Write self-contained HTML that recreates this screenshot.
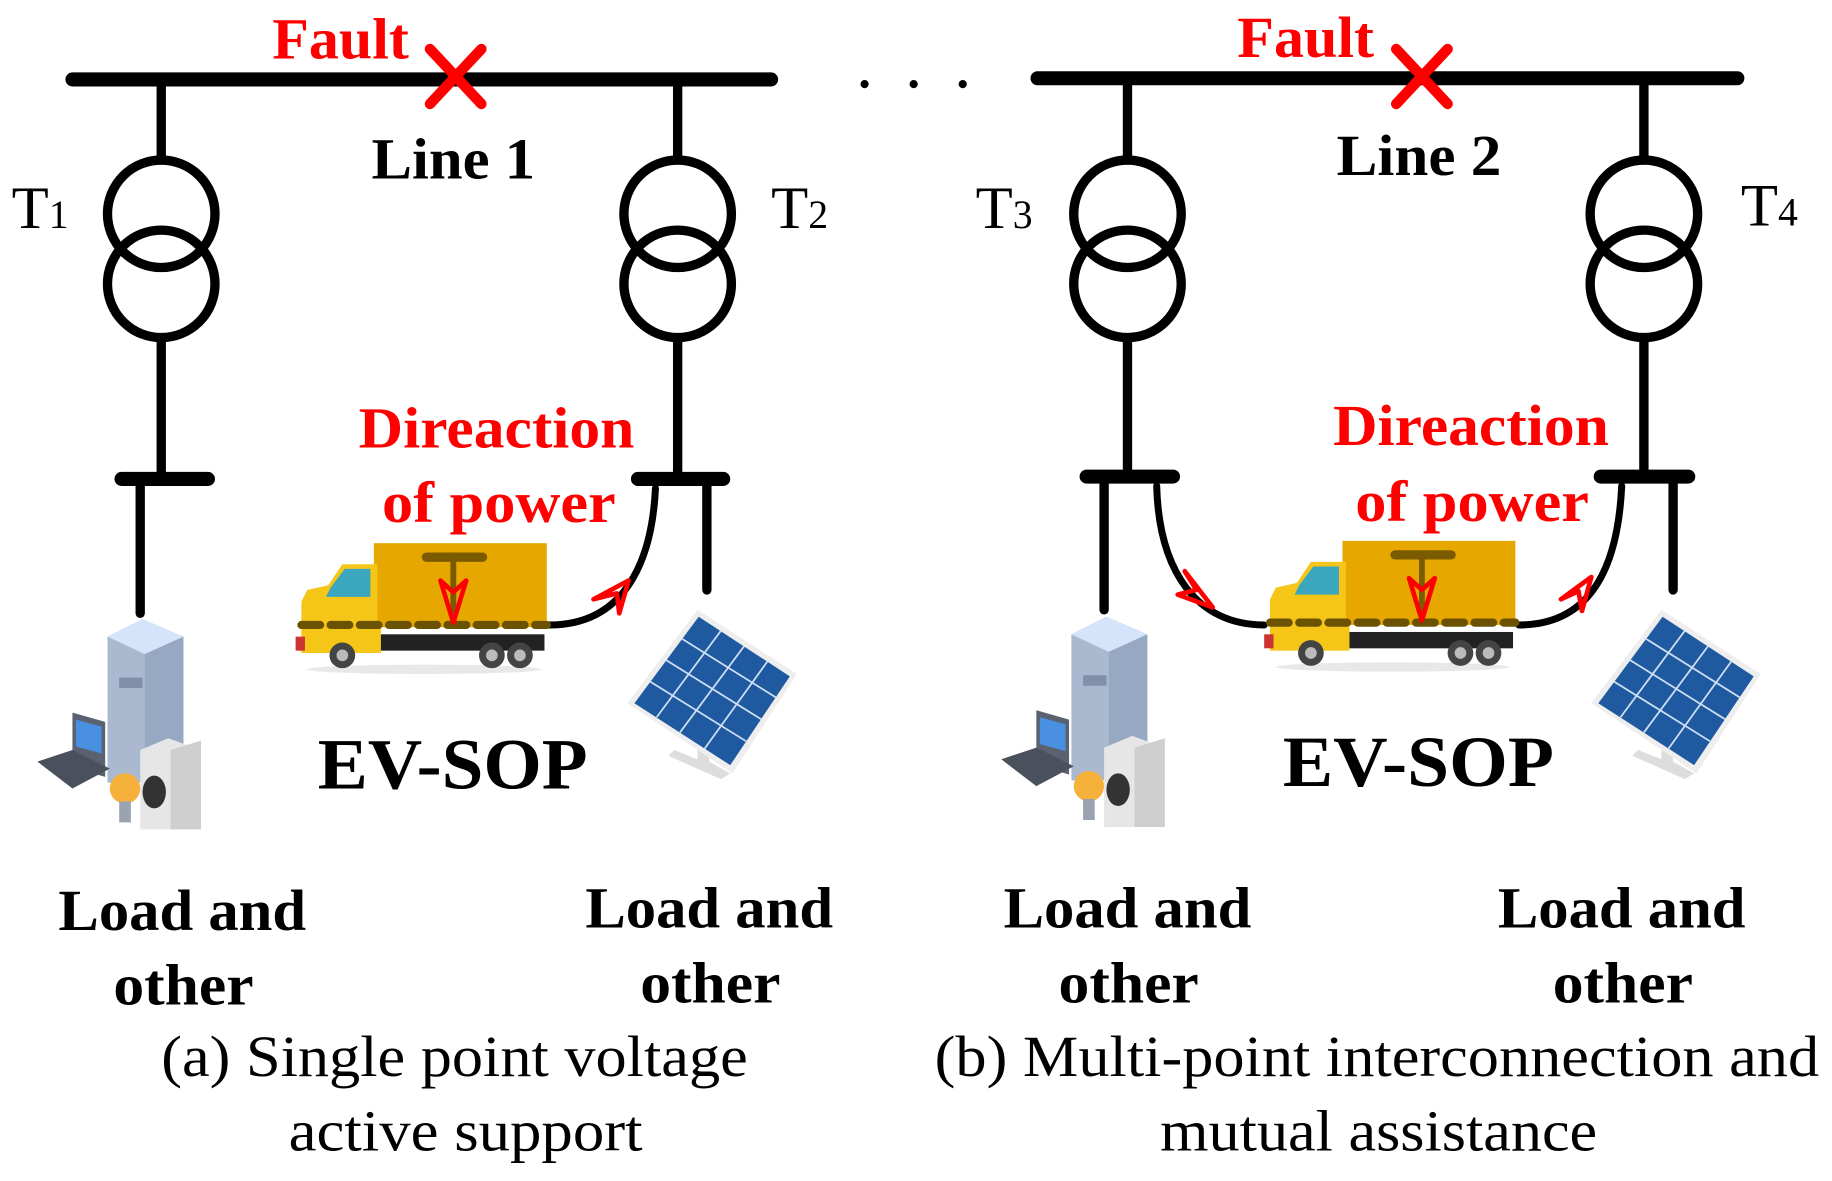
<!DOCTYPE html>
<html><head><meta charset="utf-8"><style>
html,body{margin:0;padding:0;background:#fff;}
svg{display:block;}
.b{font-family:"Liberation Serif",serif;font-weight:bold;}
.n{font-family:"Liberation Serif",serif;}
</style></head><body>
<svg width="1832" height="1181" viewBox="0 0 1568 1011" preserveAspectRatio="none" xmlns="http://www.w3.org/2000/svg">
<defs>
<g id="truck">
 <rect x="67" y="0" width="148" height="72" fill="#e6a800"/>
 <path d="M5 50 L5 78 L70 78 L70 18 L40 18 L28 36 L10 40 Z" fill="#f5c518"/>
 <path d="M30 38 L42 22 L64 22 L64 46 L26 46 Z" fill="#3aa7bf"/>
 <rect x="5" y="72" width="68" height="22" fill="#f5c518"/>
 <rect x="73" y="78" width="140" height="14" fill="#222"/>
 <rect x="0" y="80" width="8" height="12" fill="#c33"/>
 <ellipse cx="110" cy="108" rx="100" ry="4" fill="#e8e8e8"/>
 <circle cx="40" cy="96" r="11" fill="#444"/><circle cx="40" cy="96" r="5" fill="#bbb"/>
 <circle cx="168" cy="96" r="11" fill="#444"/><circle cx="168" cy="96" r="5" fill="#bbb"/>
 <circle cx="192" cy="96" r="11" fill="#444"/><circle cx="192" cy="96" r="5" fill="#bbb"/>
 <line x1="112" y1="12" x2="160" y2="12" stroke="#7a5b00" stroke-width="8" stroke-linecap="round"/>
 <line x1="135" y1="12" x2="135" y2="70" stroke="#7a5b00" stroke-width="5"/>
 <line x1="5" y1="70" x2="215" y2="70" stroke="#6b5200" stroke-width="7" stroke-dasharray="16,9" stroke-linecap="round"/>
 <path d="M124 32 L135 68 L146 32 L135 42 Z" fill="none" stroke="#f00" stroke-width="4" stroke-linejoin="round"/>
</g>
<g id="load">
 <path d="M60 15 L90 0 L125 15 L125 140 L60 140 Z" fill="#aab9d0"/>
 <path d="M60 15 L90 0 L125 15 L92 30 Z" fill="#d6e4fb"/>
 <path d="M92 30 L125 15 L125 140 L92 140 Z" fill="#97a8c2"/>
 <rect x="70" y="50" width="20" height="9" fill="#8090a8"/>
 <path d="M30 80 L58 88 L58 135 L30 127 Z" fill="#5a6170"/>
 <path d="M33 86 L55 92 L55 115 L33 109 Z" fill="#4a90e0"/>
 <path d="M0 122 L30 112 L62 128 L30 145 Z" fill="#4a505c"/>
 <path d="M88 112 L112 102 L140 112 L140 180 L88 180 Z" fill="#e6e6e6"/>
 <path d="M114 112 L140 104 L140 180 L114 180 Z" fill="#cfcfcf"/>
 <ellipse cx="100" cy="148" rx="10" ry="14" fill="#333"/>
 <circle cx="75" cy="145" r="13" fill="#f6b13a"/>
 <rect x="70" y="156" width="10" height="18" fill="#9aa4b0"/>
</g>
<g id="solar">
 <path d="M60 110 L70 110 L70 130 L88 140 L80 145 L35 125 L40 120 L60 128 Z" fill="#ddd"/>
 <path d="M0 80 L60 0 L145 55 L90 140 Z" fill="#eee"/>
 <path d="M6 80 L61 6 L139 57 L88 133 Z" fill="#1f5aa0"/>
 <g stroke="#cfe0f5" stroke-width="1.5">
  <line x1="19.5" y1="61.5" x2="101.5" y2="112.5"/>
  <line x1="33" y1="43" x2="115" y2="94"/>
  <line x1="47" y1="25" x2="127" y2="75"/>
  <line x1="25" y1="92" x2="80" y2="18"/>
  <line x1="45" y1="105" x2="100" y2="31"/>
  <line x1="66" y1="119" x2="120" y2="44"/>
 </g>
</g>
<g id="xf">
 <circle cx="0" cy="0" r="46" fill="none" stroke="#000" stroke-width="8"/>
 <circle cx="0" cy="60" r="46" fill="none" stroke="#000" stroke-width="8"/>
</g>
</defs>

<g stroke="#000" stroke-linecap="round" fill="none">
 <line x1="62" y1="68" x2="660" y2="68" stroke-width="12"/>
 <line x1="888" y1="67" x2="1487" y2="67" stroke-width="12"/>
 <line x1="138" y1="68" x2="138" y2="137" stroke-width="8"/>
 <line x1="138" y1="290" x2="138" y2="410" stroke-width="8"/>
 <line x1="104" y1="410" x2="178" y2="410" stroke-width="12"/>
 <line x1="120" y1="410" x2="120" y2="525" stroke-width="8"/>
 <line x1="580" y1="68" x2="580" y2="137" stroke-width="8"/>
 <line x1="580" y1="290" x2="580" y2="410" stroke-width="8"/>
 <line x1="546" y1="410" x2="619" y2="410" stroke-width="12"/>
 <line x1="605" y1="410" x2="605" y2="505" stroke-width="8"/>
 <path d="M561 418 C558 480 535 535 470 535" stroke-width="6"/>
 <line x1="965" y1="67" x2="965" y2="137" stroke-width="8"/>
 <line x1="965" y1="290" x2="965" y2="408" stroke-width="8"/>
 <line x1="930" y1="408" x2="1004" y2="408" stroke-width="12"/>
 <line x1="945" y1="408" x2="945" y2="522" stroke-width="8"/>
 <path d="M990 416 C992 490 1025 535 1082 535" stroke-width="6"/>
 <line x1="1407" y1="67" x2="1407" y2="137" stroke-width="8"/>
 <line x1="1407" y1="290" x2="1407" y2="408" stroke-width="8"/>
 <line x1="1370" y1="408" x2="1445" y2="408" stroke-width="12"/>
 <line x1="1432" y1="408" x2="1432" y2="505" stroke-width="8"/>
 <path d="M1388 416 C1385 480 1365 535 1300 535" stroke-width="6"/>
</g>
<use href="#xf" x="138" y="183"/>
<use href="#xf" x="580" y="183"/>
<use href="#xf" x="965" y="183"/>
<use href="#xf" x="1407" y="183"/>

<g stroke="#f00" stroke-width="9" stroke-linecap="round">
 <line x1="368" y1="42" x2="412" y2="89"/><line x1="412" y1="42" x2="368" y2="89"/>
 <line x1="1195" y1="42" x2="1239" y2="89"/><line x1="1239" y1="42" x2="1195" y2="89"/>
</g>
<g fill="#000"><circle cx="740" cy="72" r="3.5"/><circle cx="782" cy="72" r="3.5"/><circle cx="824" cy="72" r="3.5"/></g>

<use href="#truck" x="253" y="465"/>
<use href="#truck" x="1082" y="463"/>
<g fill="none" stroke="#f00" stroke-width="4" stroke-linejoin="round">
 <path d="M508 513 L538 497 L530 525 L528 508 Z"/>
 <path d="M1336 513 L1362 494 L1354 523 L1351 506 Z"/>
 <path d="M1014 489 L1038 520 L1008 509 L1024 505 Z"/>
</g>

<use href="#load" x="32" y="530"/>
<use href="#load" x="857" y="528"/>
<use href="#solar" x="537" y="522"/>
<use href="#solar" x="1362" y="522"/>

<g class="b" fill="#f00" font-size="50">
 <text x="233" y="50" textLength="117" lengthAdjust="spacingAndGlyphs">Fault</text>
 <text x="1059" y="49" textLength="117" lengthAdjust="spacingAndGlyphs">Fault</text>
 <text x="307" y="383" textLength="236" lengthAdjust="spacingAndGlyphs">Direaction</text>
 <text x="327" y="447" textLength="200" lengthAdjust="spacingAndGlyphs">of power</text>
 <text x="1141" y="381" textLength="236" lengthAdjust="spacingAndGlyphs">Direaction</text>
 <text x="1160" y="446" textLength="200" lengthAdjust="spacingAndGlyphs">of power</text>
</g>
<g class="b" fill="#000" font-size="50">
 <text x="318" y="153" textLength="140" lengthAdjust="spacingAndGlyphs">Line 1</text>
 <text x="1144" y="150" textLength="141" lengthAdjust="spacingAndGlyphs">Line 2</text>
 <text x="50" y="796" textLength="212" lengthAdjust="spacingAndGlyphs">Load and</text>
 <text x="97" y="860" textLength="120" lengthAdjust="spacingAndGlyphs">other</text>
 <text x="501" y="794" textLength="212" lengthAdjust="spacingAndGlyphs">Load and</text>
 <text x="548" y="858" textLength="120" lengthAdjust="spacingAndGlyphs">other</text>
 <text x="859" y="794" textLength="212" lengthAdjust="spacingAndGlyphs">Load and</text>
 <text x="906" y="858" textLength="120" lengthAdjust="spacingAndGlyphs">other</text>
 <text x="1282" y="794" textLength="212" lengthAdjust="spacingAndGlyphs">Load and</text>
 <text x="1329" y="858" textLength="120" lengthAdjust="spacingAndGlyphs">other</text>
 <text x="272" y="675" font-size="62" textLength="231" lengthAdjust="spacingAndGlyphs">EV-SOP</text>
 <text x="1098" y="673" font-size="62" textLength="232" lengthAdjust="spacingAndGlyphs">EV-SOP</text>
</g>
<g class="n" fill="#000" font-size="52">
 <text x="10" y="195">T<tspan font-size="34">1</tspan></text>
 <text x="660" y="195">T<tspan font-size="34">2</tspan></text>
 <text x="835" y="195">T<tspan font-size="34">3</tspan></text>
 <text x="1490" y="193">T<tspan font-size="34">4</tspan></text>
</g>
<g class="n" fill="#000" font-size="50">
 <text x="138" y="921" textLength="502" lengthAdjust="spacingAndGlyphs">(a) Single point voltage</text>
 <text x="247" y="985" textLength="303" lengthAdjust="spacingAndGlyphs">active support</text>
 <text x="800" y="921" textLength="757" lengthAdjust="spacingAndGlyphs">(b) Multi-point interconnection and</text>
 <text x="993" y="985" textLength="374" lengthAdjust="spacingAndGlyphs">mutual assistance</text>
</g>
</svg>
</body></html>
